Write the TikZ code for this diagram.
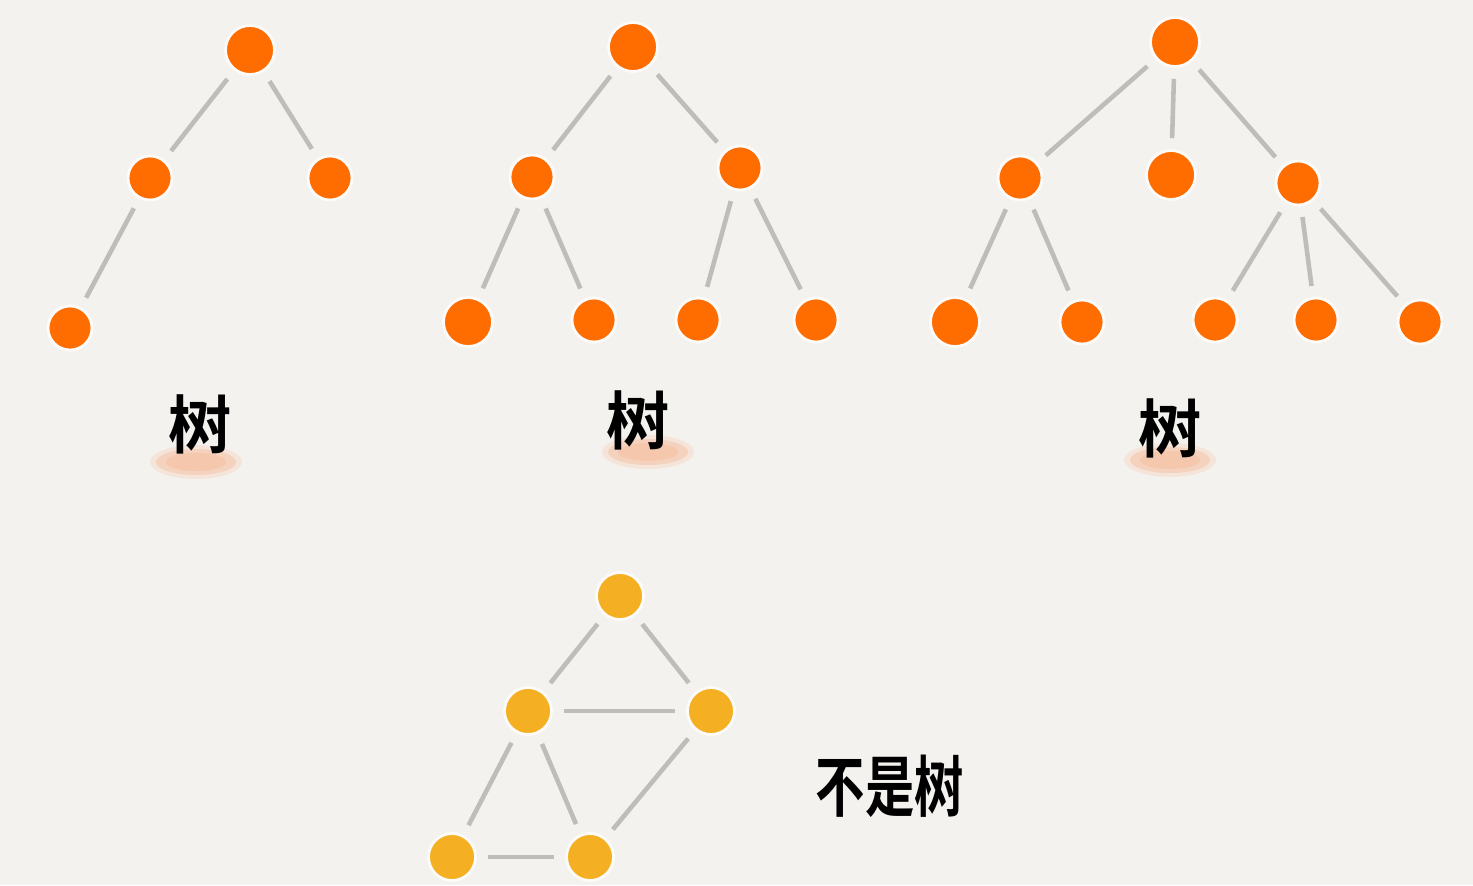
\documentclass[tikz,border=0pt]{standalone}
\usepackage{fontspec}
\newfontfamily\cjk{Noto Sans CJK SC}[BoldFont={Noto Sans CJK SC Bold}]
\usepackage{tikz}
\usetikzlibrary{positioning,calc}

\definecolor{papier}{HTML}{F4F2EE}
\definecolor{orangev}{HTML}{FF6C00}
\definecolor{jaune}{HTML}{F4B022}
\definecolor{trait}{HTML}{BDBDBA}
\definecolor{peche}{HTML}{F6BE9E}

\tikzset{
    noeud/.style={circle,fill=orangev,draw=white!70!papier,line width=0.8pt,inner sep=0pt,minimum size=0.44cm,outer sep=3.5pt},
    gros/.style={noeud,minimum size=0.49cm},
    noeudj/.style={noeud,fill=jaune,minimum size=0.47cm},
    arete/.style={trait,line width=1.3pt},
    mot/.style={font=\cjk\bfseries\fontsize{18}{20}\selectfont,inner sep=0pt}
}

\begin{document}
\begin{tikzpicture}[x=0.01cm,y=-0.01cm]
    % fond
    \fill[papier] (0,0) rectangle (1473,885);

    % Arbre 1
    \node[gros]  (a0) at (250,50) {};
    \node[noeud] (a1) at (150,178) {};
    \node[noeud] (a2) at (330,178) {};
    \node[noeud] (a3) at (70,328) {};
    \draw[arete] (a0) -- (a1);
    \draw[arete] (a0) -- (a2);
    \draw[arete] (a1) -- (a3);

    % Arbre 2
    \node[gros]  (b0) at (633,47) {};
    \node[noeud] (b1) at (532,177) {};
    \node[noeud] (b2) at (740,168) {};
    \node[gros]  (b3) at (468,322) {};
    \node[noeud] (b4) at (594,320) {};
    \node[noeud] (b5) at (698,320) {};
    \node[noeud] (b6) at (816,320) {};
    \foreach \p/\f in {b0/b1,b0/b2,b1/b3,b1/b4,b2/b5,b2/b6} {
        \draw[arete] (\p) -- (\f);
    }

    % Arbre 3
    \node[gros]  (c0) at (1175,42) {};
    \node[noeud] (c1) at (1020,178) {};
    \node[gros]  (c2) at (1171,175) {};
    \node[noeud] (c3) at (1298,183) {};
    \node[gros]  (c4) at (955,322) {};
    \node[noeud] (c5) at (1082,322) {};
    \node[noeud] (c6) at (1215,320) {};
    \node[noeud] (c7) at (1316,320) {};
    \node[noeud] (c8) at (1420,322) {};
    \foreach \p/\f in {c0/c1,c0/c2,c0/c3,c1/c4,c1/c5,c3/c6,c3/c7,c3/c8} {
        \draw[arete] (\p) -- (\f);
    }

    % Etiquettes avec surlignage
    \foreach \x/\y/\n in {196/462/s1,648/452/s2,1170/460/s3} {
        \fill[peche,opacity=0.25] (\x,\y) ellipse (46 and 17);
        \fill[peche,opacity=0.45] (\x,\y) ellipse (40 and 13);
        \fill[peche,opacity=0.5] (\x,\y) ellipse (30 and 9);
        \coordinate (\n) at (\x,\y);
    }
    \node[mot] (t1) at (200,424) {树};
    \node[mot] (t2) at (638,420) {树};
    \node[mot] (t3) at (1170,428) {树};

    % Graphe qui n'est pas un arbre
    \node[noeudj] (g0) at (620,596) {};
    \node[noeudj] (g1) at (528,711) {};
    \node[noeudj] (g2) at (711,711) {};
    \node[noeudj] (g3) at (452,857) {};
    \node[noeudj] (g4) at (590,857) {};
    \foreach \p/\f in {g0/g1,g0/g2,g1/g2,g1/g3,g1/g4,g2/g4,g3/g4} {
        \draw[arete] (\p) -- (\f);
    }
    \node[mot] (t4) at (890,786) {\scalebox{0.78}[1.05]{不是树}};
\end{tikzpicture}
\end{document}
